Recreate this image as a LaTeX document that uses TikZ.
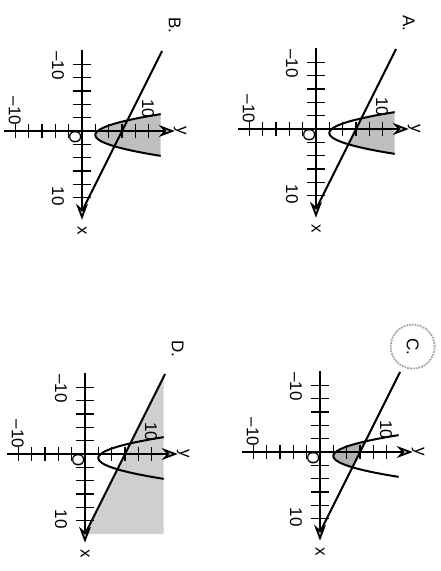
\documentclass[tikz,border=0pt]{standalone}
\usepackage{fontspec}
\setmainfont{Liberation Sans}
\usetikzlibrary{arrows.meta}

\begin{document}
\begin{tikzpicture}[
  font=\fontsize{17}{19}\selectfont,
  graph/.style={x=6.67pt, y=6.67pt, rotate=-90},
  axis/.style={line width=1.8pt, -{Stealth[length=16pt, width=12pt, fill=gray!45]}},
  tick/.style={line width=1.5pt},
  curve/.style={line width=2pt},
  lbl/.style={rotate=-90, inner sep=1pt},
  shade/.style={fill=gray!50},
  ring/.style={draw=gray!70, densely dotted, line width=1.8pt}
]
\useasboundingbox (0,0) rectangle (441pt,-571pt);
% ----- shaded regions (graph coords: x down, y right) -----
\begin{scope}[shift={(316pt,-129pt)}, graph]
  \clip plot[domain=-2.53:3.73, samples=40] (\x,{(\x-0.6)^2+2}) -- cycle;
  \fill[shade] (-12,12) -- (12,0) -- (12,14) -- (-12,14) -- cycle;
\end{scope}
\begin{scope}[shift={(82pt,-131pt)}, graph]
  \fill[shade] plot[domain=-2.53:3.73, samples=40] (\x,{(\x-0.6)^2+2}) -- cycle;
\end{scope}
\begin{scope}[shift={(320pt,-452pt)}, graph]
  \clip plot[domain=-2.53:3.73, samples=40] (\x,{(\x-0.6)^2+2}) -- cycle;
  \fill[shade, fill=gray!60] (-12,12) -- (12,0) -- (12,-2) -- (-12,-2) -- cycle;
\end{scope}
\begin{scope}[shift={(85pt,-454pt)}, graph]
  \fill[shade, fill=gray!38] (-11.6,11.8) -- (12,0) -- (12,11.8) -- cycle;
\end{scope}
% ----- axes, curves and labels of the four choices -----
\foreach \p/\ox/\oy/\ttl in {a/316/129/A., b/82/131/B., c/320/452/C., d/85/454/D.}{
  \begin{scope}[shift={(\ox pt,-\oy pt)}, graph]
    \draw[axis] (-12.2,0) -- (13.3,0);
    \draw[axis] (0,-11.7) -- (0,13.9);
    \foreach \k in {-10,-8,...,-2,2,4,...,10}{
      \draw[tick] (\k,-1.4) -- (\k,1.4);
      \draw[tick] (-1.1,\k) -- (1.1,\k);
    }
    \draw[curve] (-12,12) -- (12,0);
    \draw[curve] plot[domain=-2.53:3.73, samples=40] (\x,{(\x-0.6)^2+2});
    \node[lbl] (\p-xm) at (-9.8,-3.6) {–10};
    \node[lbl] (\p-xp) at (9.8,-3.6) {10};
    \node[lbl] (\p-ym) at (-3,-10.1) {–10};
    \node[lbl] (\p-yp) at (-3.3,9.9) {10};
    \node[lbl] (\p-x) at (14.9,0) {x};
    \node[lbl] (\p-y) at (0,14.7) {y};
    \node[lbl] (\p-o) at (0.9,-1) {O};
    \node[lbl] (\p-t) at (-15.8,13.9) {\ttl};
  \end{scope}
}
% ----- the circled answer -----
\draw[ring] (c-t.center) circle [radius=22pt];
\end{tikzpicture}
\end{document}
